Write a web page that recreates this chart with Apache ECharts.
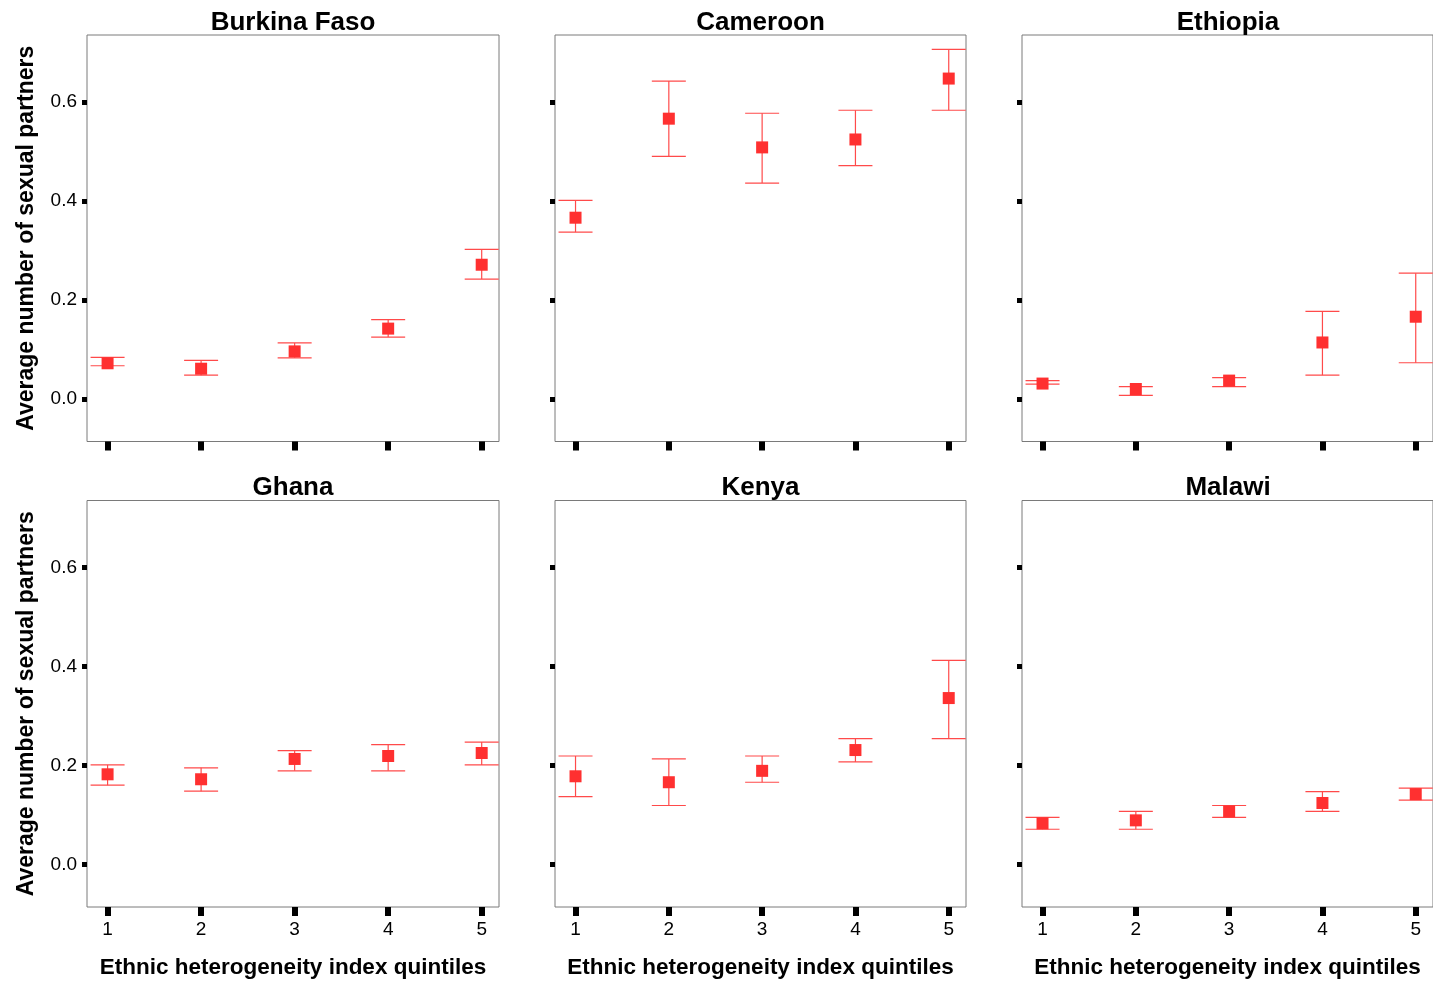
<!DOCTYPE html>
<html>
<head>
<meta charset="utf-8">
<script src="https://cdn.jsdelivr.net/npm/echarts@6/dist/echarts.min.js"></script>
<style>
html,body{margin:0;padding:0;background:#fff;}
#chart{width:1433px;height:983px;}
</style>
</head>
<body>
<div id="chart"></div>
<script>
// ---- data ----
const countries = ['Burkina Faso', 'Cameroon', 'Ethiopia', 'Ghana', 'Kenya', 'Malawi'];
const quintiles = [1, 2, 3, 4, 5];
const yTickValues = [0, 0.2, 0.4, 0.6];

const meanBurkina = [0.072, 0.061, 0.096, 0.142, 0.271];
const lowBurkina  = [0.067, 0.048, 0.083, 0.125, 0.242];
const highBurkina = [0.084, 0.078, 0.113, 0.160, 0.302];

const meanCameroon = [0.366, 0.566, 0.508, 0.524, 0.647];
const lowCameroon  = [0.337, 0.490, 0.436, 0.471, 0.583];
const highCameroon = [0.401, 0.642, 0.577, 0.583, 0.706];

const meanEthiopia = [0.031, 0.020, 0.037, 0.114, 0.166];
const lowEthiopia  = [0.030, 0.007, 0.025, 0.048, 0.073];
const highEthiopia = [0.037, 0.025, 0.043, 0.177, 0.254];

const meanGhana = [0.182, 0.172, 0.213, 0.219, 0.225];
const lowGhana  = [0.160, 0.148, 0.189, 0.189, 0.201];
const highGhana = [0.201, 0.195, 0.230, 0.242, 0.247];

const meanKenya = [0.178, 0.166, 0.189, 0.231, 0.336];
const lowKenya  = [0.137, 0.119, 0.166, 0.207, 0.254];
const highKenya = [0.219, 0.213, 0.219, 0.254, 0.412];

const meanMalawi = [0.083, 0.089, 0.107, 0.124, 0.142];
const lowMalawi  = [0.071, 0.071, 0.095, 0.107, 0.130];
const highMalawi = [0.095, 0.107, 0.119, 0.147, 0.154];

const yAxisTitle = 'Average number of sexual partners';
const xAxisTitle = 'Ethnic heterogeneity index quintiles';

// ---- build ----
const means = [meanBurkina, meanCameroon, meanEthiopia, meanGhana, meanKenya, meanMalawi];
const lows  = [lowBurkina, lowCameroon, lowEthiopia, lowGhana, lowKenya, lowMalawi];
const highs = [highBurkina, highCameroon, highEthiopia, highGhana, highKenya, highMalawi];

const FONT = "'Liberation Sans', Arial, sans-serif";
const colLeft = [87, 555, 1022];
const colWidth = [412, 411, 412];
const rowTop = [35, 500.5];
const rowHeight = 406.5;
const markerColor = '#ff3030';
const barColor = '#ff4a4a';

const grids = [], xAxes = [], yAxes = [], series = [], titles = [];

countries.forEach((name, i) => {
  const row = Math.floor(i / 3), col = i % 3;
  grids.push({
    left: colLeft[col], top: rowTop[row], width: colWidth[col], height: rowHeight,
    show: true, borderColor: '#7a7a7a', borderWidth: 1, backgroundColor: 'transparent'
  });
  titles.push({
    text: name,
    left: colLeft[col] + colWidth[col] / 2,
    top: row === 0 ? 10 : 475,
    padding: 0,
    textAlign: 'center',
    textStyle: { fontFamily: FONT, fontSize: 26, fontWeight: 'bold', color: '#000' }
  });
  const bottomRow = row === 1;
  const leftCol = col === 0;
  xAxes.push({
    type: 'value', gridIndex: i, min: 0.78, max: 5.185,
    splitLine: { show: false },
    axisLine: { show: false, onZero: false },
    axisTick: { show: true, customValues: quintiles, length: 9, lineStyle: { color: '#000', width: 6 } },
    axisLabel: {
      show: bottomRow, customValues: quintiles, margin: 13,
      fontFamily: FONT, fontSize: 19, color: '#000'
    },
    name: bottomRow ? xAxisTitle : '',
    nameLocation: 'middle', nameGap: 49,
    nameTextStyle: { fontFamily: FONT, fontSize: 22.5, fontWeight: 'bold', color: '#000' }
  });
  yAxes.push({
    type: 'value', gridIndex: i, min: -0.086, max: 0.735,
    splitLine: { show: false },
    axisLine: { show: false, onZero: false },
    axisTick: { show: true, customValues: yTickValues, length: 5, lineStyle: { color: '#000', width: 5 } },
    axisLabel: {
      show: leftCol, customValues: yTickValues, margin: 10,
      fontFamily: FONT, fontSize: 19, color: '#000',
      formatter: v => Number(v).toFixed(1)
    },
    name: leftCol ? yAxisTitle : '',
    nameLocation: 'middle', nameGap: 49,
    nameTextStyle: { fontFamily: FONT, fontSize: 23, fontWeight: 'bold', color: '#000' }
  });
  series.push({
    type: 'custom', xAxisIndex: i, yAxisIndex: i,
    data: quintiles.map((q, k) => [q, lows[i][k], highs[i][k]]),
    encode: { x: 0, y: [1, 2] },
    renderItem: (params, api) => {
      const x = api.value(0);
      const pLo = api.coord([x, api.value(1)]);
      const pHi = api.coord([x, api.value(2)]);
      const hw = 17;
      const st = { stroke: barColor, lineWidth: 1.2 };
      return {
        type: 'group',
        children: [
          { type: 'line', shape: { x1: pLo[0], y1: pLo[1], x2: pHi[0], y2: pHi[1] }, style: st },
          { type: 'line', shape: { x1: pHi[0] - hw, y1: pHi[1], x2: pHi[0] + hw, y2: pHi[1] }, style: st },
          { type: 'line', shape: { x1: pLo[0] - hw, y1: pLo[1], x2: pLo[0] + hw, y2: pLo[1] }, style: st }
        ]
      };
    },
    silent: true, z: 2
  });
  series.push({
    type: 'scatter', xAxisIndex: i, yAxisIndex: i,
    data: quintiles.map((q, k) => [q, means[i][k]]),
    symbol: 'rect', symbolSize: 12,
    itemStyle: { color: markerColor, opacity: 1 },
    silent: true, z: 3
  });
});

const chart = echarts.init(document.getElementById('chart'), null, { renderer: 'canvas' });
chart.setOption({
  animation: false,
  backgroundColor: '#fff',
  title: titles,
  grid: grids,
  xAxis: xAxes,
  yAxis: yAxes,
  series: series
});
</script>
</body>
</html>
